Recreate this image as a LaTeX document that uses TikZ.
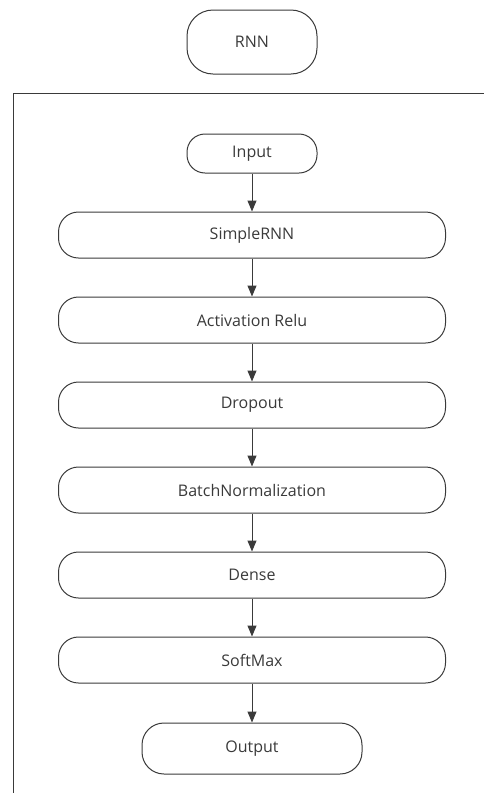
\documentclass[tikz,border=0pt]{standalone}
\usepackage{fontspec}
\setmainfont{Open Sans}
\usepackage{tikz}
\usetikzlibrary{positioning,arrows.meta}
\definecolor{linegray}{HTML}{3A3A3A}

\begin{document}
\begin{tikzpicture}[x=1pt, y=1pt, ->, >={Triangle[length=11pt,width=9pt]}, line width=1pt, draw=linegray,
  layer/.style={draw=linegray, rounded corners=20pt, minimum width=387pt, minimum height=46pt, inner sep=0pt, text=linegray, -},
  every node/.style={font=\fontsize{16}{18}\selectfont}]

  \useasboundingbox (0,0) rectangle (484,-793);

  \node[layer, minimum width=130pt, minimum height=64pt, rounded corners=26pt] (rnn) at (252,-42) {RNN};

  % frame round the network
  \coordinate (ftr) at (486,-93);
  \coordinate (ftl) at (13,-93);
  \coordinate (fbl) at (13,-795);
  \draw[-, linegray] (ftr) -- (ftl) -- (fbl);

  \node[layer, minimum width=130pt, minimum height=39pt, rounded corners=18pt] (in) at (252,-153.5) {Input};
  \node[layer] (srnn) [below = 38pt of in] {SimpleRNN};
  \node[layer] (relu) [below = 38pt of srnn] {Activation Relu};
  \node[layer] (drop) [below = 38pt of relu] {Dropout};
  \node[layer] (bn) [below = 38pt of drop] {BatchNormalization};
  \node[layer] (dense) [below = 38pt of bn] {Dense};
  \node[layer] (soft) [below = 38pt of dense] {SoftMax};
  \node[layer, minimum width=220pt, minimum height=51pt, rounded corners=22pt] (out) [below = 39pt of soft] {Output};

  \path[linegray]
    (in) edge (srnn)
    (srnn) edge (relu)
    (relu) edge (drop)
    (drop) edge (bn)
    (bn) edge (dense)
    (dense) edge (soft)
    (soft) edge (out)
  ;
\end{tikzpicture}
\end{document}
